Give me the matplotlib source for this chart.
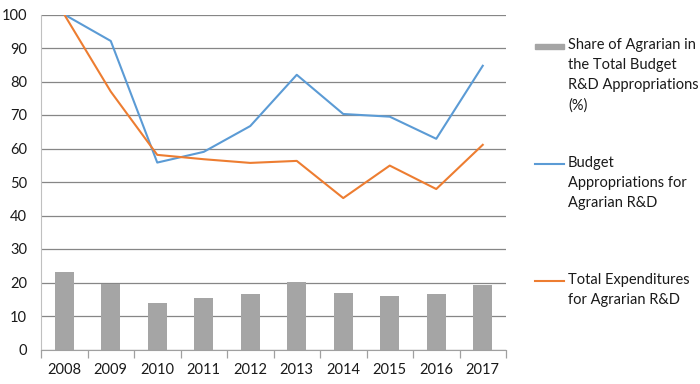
import matplotlib
matplotlib.use("Agg")
import matplotlib.pyplot as plt
from matplotlib.lines import Line2D
from matplotlib.patches import Rectangle
import numpy as np

years = ["2008", "2009", "2010", "2011", "2012", "2013", "2014", "2015", "2016", "2017"]
share = [23.1, 19.5, 13.9, 15.5, 16.6, 20.1, 16.9, 16.0, 16.6, 19.3]
budget = [100, 92.1, 55.8, 59.0, 66.7, 82.0, 70.3, 69.5, 62.9, 84.7]
expend = [100, 77.0, 58.1, 56.8, 55.7, 56.3, 45.2, 54.9, 47.9, 61.1]

label_share = "Share of Agrarian in\nthe Total Budget\nR&D Appropriations\n(%)"
label_budget = "Budget\nAppropriations for\nAgrarian R&D"
label_expend = "Total Expenditures\nfor Agrarian R&D"

GREY = "#a5a5a5"
BLUE = "#5b9bd5"
ORANGE = "#ed7d31"
GRID = "#868686"
TEXT = "#1a1a1a"

plt.rcParams["font.family"] = ["Lato", "DejaVu Sans"]
plt.rcParams["font.size"] = 10.5

fig = plt.figure(figsize=(7, 3.84), dpi=100)
ax = fig.add_axes([41 / 700, 1 - 349.5 / 384, 465 / 700, 335 / 384])

x = np.arange(len(years))
ax.bar(x, share, width=0.41, color=GREY, zorder=2)
ax.plot(x, budget, color=BLUE, lw=1.5, zorder=3)
ax.plot(x, expend, color=ORANGE, lw=1.5, zorder=3)

ax.set_xlim(-0.5, len(years) - 0.5)
ax.set_ylim(0, 100)
ax.set_yticks(range(0, 101, 10))
ax.yaxis.grid(True, color=GRID, lw=0.9, zorder=0)
ax.set_axisbelow(True)

ax.set_xticks(x)
ax.set_xticklabels(years)
ax.set_xticks(np.arange(-0.5, len(years)), minor=True)
ax.tick_params(axis="x", which="major", length=0, pad=10)
ax.tick_params(axis="x", which="minor", length=6, color="#a0a0a0", width=0.9)
ax.tick_params(axis="y", length=0, pad=10)
for lab in ax.get_xticklabels() + ax.get_yticklabels():
    lab.set_color(TEXT)

for s in ["top", "right"]:
    ax.spines[s].set_visible(False)
ax.spines["left"].set_color("#c0c0c0")
ax.spines["bottom"].set_color("#a0a0a0")

# legend drawn by hand so multi-line labels sit like the original
def px(xp, yp):
    return xp / 700, 1 - yp / 384

x0, x1, xt = 535, 564, 568
ls = 1.55
fig.add_artist(Rectangle(px(x0, 49), (x1 - x0) / 700, 5 / 384,
                         transform=fig.transFigure, color=GREY))
fig.text(*px(xt, 38), label_share, va="top", ha="left", linespacing=ls, color=TEXT)
fig.add_artist(Line2D([x0 / 700, x1 / 700], [1 - 164 / 384] * 2,
                      transform=fig.transFigure, color=BLUE, lw=1.5))
fig.text(*px(xt, 156), label_budget, va="top", ha="left", linespacing=ls, color=TEXT)
fig.add_artist(Line2D([x0 / 700, x1 / 700], [1 - 281 / 384] * 2,
                      transform=fig.transFigure, color=ORANGE, lw=1.5))
fig.text(*px(xt, 273), label_expend, va="top", ha="left", linespacing=ls, color=TEXT)

fig.savefig("out.png", dpi=100)
